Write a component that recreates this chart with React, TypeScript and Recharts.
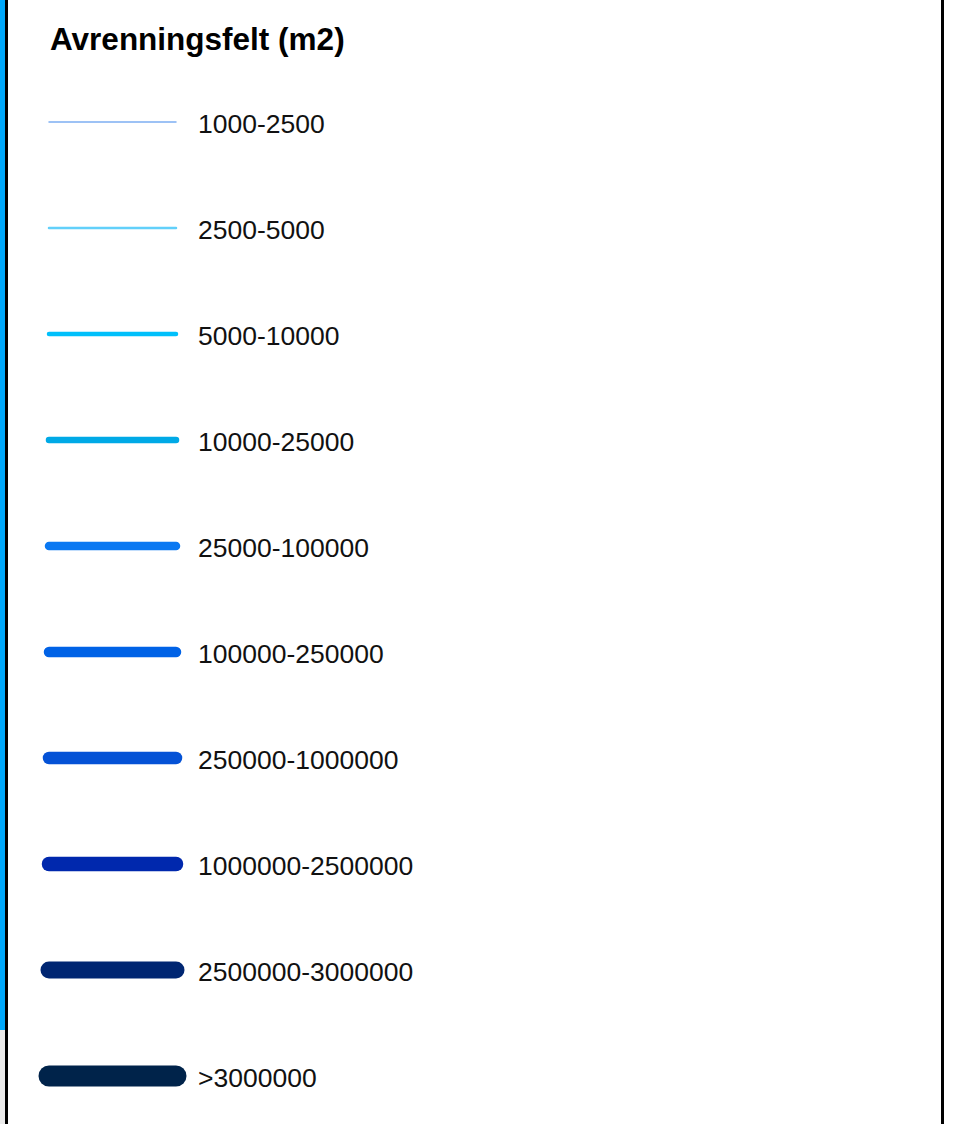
import React from 'react';
import { ScatterChart, Scatter, XAxis, YAxis } from 'recharts';

// legend classes, top to bottom
const classLabels = [
  '1000-2500',
  '2500-5000',
  '5000-10000',
  '10000-25000',
  '25000-100000',
  '100000-250000',
  '250000-1000000',
  '1000000-2500000',
  '2500000-3000000',
  '>3000000',
];

const classColors = [
  '#7eaef2',
  '#62d0fa',
  '#00c0fb',
  '#00a9e6',
  '#0a78f2',
  '#0062e6',
  '#0452d6',
  '#0028ad',
  '#002672',
  '#00234a',
];

const classWidths = [1.5, 2.5, 4.5, 6.5, 8.5, 10.5, 12.5, 14.5, 17, 21];

const sampleStart = 0;
const sampleEnd = 1;

const series = classLabels.map((label, i) => ({
  name: label,
  data: [
    { x: sampleStart, y: i },
    { x: sampleEnd, y: i },
  ],
}));

const NoDot = () => <g />;

const App: React.FC = () => {
  return (
    <div
      style={{
        position: 'absolute',
        left: 0,
        top: 0,
        width: 956,
        height: 1124,
        overflow: 'hidden',
        background: '#ffffff',
        fontFamily: '"Liberation Sans", Arial, sans-serif',
      }}
    >
      <div style={{ position: 'absolute', left: 0, top: 0, width: 5, height: 1030, background: '#00a8fb' }} />
      <div style={{ position: 'absolute', left: 0, top: 1030, width: 5, height: 94, background: '#ececec' }} />
      <div style={{ position: 'absolute', left: 5, top: 0, width: 3, height: 1124, background: '#000' }} />
      <div style={{ position: 'absolute', left: 941, top: 0, width: 3, height: 1124, background: '#000' }} />
      <div
        style={{
          position: 'absolute',
          left: 50,
          top: 21,
          fontSize: 31.5,
          fontWeight: 'bold',
          color: '#000',
          whiteSpace: 'nowrap',
        }}
      >
        Avrenningsfelt (m2)
      </div>
      <div style={{ position: 'absolute', left: 0, top: 0 }}>
        <ScatterChart width={900} height={1129} margin={{ top: 69, right: 0, bottom: 0, left: 49 }}>
          <XAxis type="number" dataKey="x" domain={[sampleStart, sampleEnd]} hide />
          <YAxis
            type="number"
            dataKey="y"
            orientation="right"
            domain={[-0.5, classLabels.length - 0.5]}
            ticks={classLabels.map((_, i) => i)}
            tickFormatter={(v: number) => classLabels[v]}
            reversed
            axisLine={false}
            tickLine={false}
            tickMargin={16}
            width={724}
            tick={{ fill: '#111', fontSize: 26.5, textAnchor: 'start', dy: 2 }}
            interval={0}
          />
          {series.map((s, i) => (
            <Scatter
              key={s.name}
              name={s.name}
              data={s.data}
              fill={classColors[i]}
              shape={NoDot}
              line={{ stroke: classColors[i], strokeWidth: classWidths[i], strokeLinecap: 'round' }}
              isAnimationActive={false}
            />
          ))}
        </ScatterChart>
      </div>
    </div>
  );
};

export default App;
